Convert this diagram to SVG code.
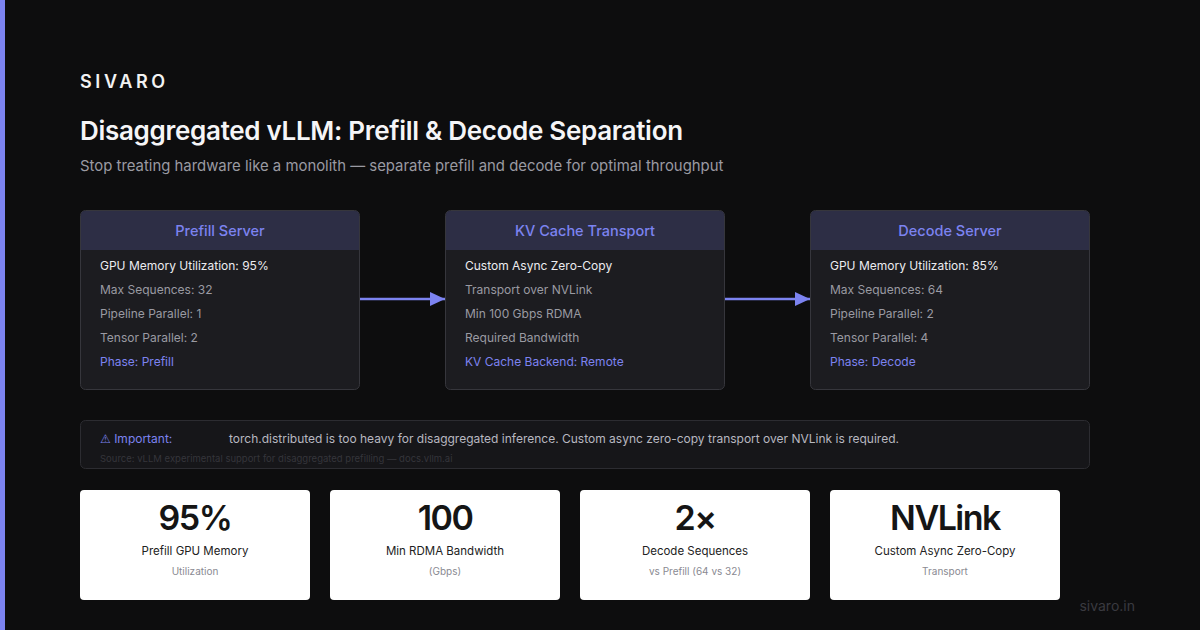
<svg xmlns="http://www.w3.org/2000/svg" width="1200" height="630" viewBox="0 0 1200 630">
<defs>
<style>
text{font-family:Inter,"Liberation Sans",sans-serif}
.hdr{font-size:14.5px;font-weight:500;fill:#7c83f0;text-anchor:middle}
.b{font-size:12px;fill:#9a9aa2}
.w{fill:#ececf0}
.a{fill:#7c83f0}
.card{fill:#1c1c20;stroke:#36363c;stroke-width:1}
.head{fill:#2d2e45}
.stat{fill:#ffffff}
.num{font-size:34px;font-weight:600;fill:#151515;text-anchor:middle;letter-spacing:-1.5px}
.lab{font-size:11.5px;fill:#222;text-anchor:middle}
.sub{font-size:10px;fill:#8a8a92;text-anchor:middle}
</style>
<marker id="ah" markerWidth="15" markerHeight="14" refX="15" refY="7" orient="auto" markerUnits="userSpaceOnUse">
<path d="M0,0 L15,7 L0,14 Z" fill="#7c83f0"/>
</marker>
</defs>
<rect width="1200" height="630" fill="#0d0d0e"/>
<rect width="5" height="630" fill="#7c83f0"/>
<text x="80" y="88" style="font-size:18px;font-weight:600;letter-spacing:3.6px;fill:#f2f2f2">SIVARO</text>
<text x="80" y="140" style="font-size:26px;font-weight:600;fill:#f5f5f7;letter-spacing:-0.3px">Disaggregated vLLM: Prefill &amp; Decode Separation</text>
<text x="80" y="171" style="font-size:14.9px;fill:#9a9aa2">Stop treating hardware like a monolith — separate prefill and decode for optimal throughput</text>

<g id="connectors">
<line x1="360" y1="299" x2="445" y2="299" stroke="#7c83f0" stroke-width="2.5" marker-end="url(#ah)"/>
<line x1="725" y1="299" x2="810" y2="299" stroke="#7c83f0" stroke-width="2.5" marker-end="url(#ah)"/>
</g>

<g id="prefill">
<rect class="card" x="80.5" y="210.5" width="279" height="179" rx="5"/>
<path class="head" d="M81,250 V215 a4,4 0 0 1 4,-4 H355 a4,4 0 0 1 4,4 V250 Z"/>
<text class="hdr" x="220" y="236">Prefill Server</text>
<text class="b w" x="100" y="270">GPU Memory Utilization: 95%</text>
<text class="b" x="100" y="294">Max Sequences: 32</text>
<text class="b" x="100" y="318">Pipeline Parallel: 1</text>
<text class="b" x="100" y="342">Tensor Parallel: 2</text>
<text class="b a" x="100" y="366">Phase: Prefill</text>
</g>

<g id="kv">
<rect class="card" x="445.5" y="210.5" width="279" height="179" rx="5"/>
<path class="head" d="M446,250 V215 a4,4 0 0 1 4,-4 H720 a4,4 0 0 1 4,4 V250 Z"/>
<text class="hdr" x="585" y="236">KV Cache Transport</text>
<text class="b w" x="465" y="270">Custom Async Zero-Copy</text>
<text class="b" x="465" y="294">Transport over NVLink</text>
<text class="b" x="465" y="318">Min 100 Gbps RDMA</text>
<text class="b" x="465" y="342">Required Bandwidth</text>
<text class="b a" x="465" y="366">KV Cache Backend: Remote</text>
</g>

<g id="decode">
<rect class="card" x="810.5" y="210.5" width="279" height="179" rx="5"/>
<path class="head" d="M811,250 V215 a4,4 0 0 1 4,-4 H1085 a4,4 0 0 1 4,4 V250 Z"/>
<text class="hdr" x="950" y="236">Decode Server</text>
<text class="b w" x="830" y="270">GPU Memory Utilization: 85%</text>
<text class="b" x="830" y="294">Max Sequences: 64</text>
<text class="b" x="830" y="318">Pipeline Parallel: 2</text>
<text class="b" x="830" y="342">Tensor Parallel: 4</text>
<text class="b a" x="830" y="366">Phase: Decode</text>
</g>

<g id="important">
<rect x="80.5" y="420.5" width="1009" height="48" rx="5" fill="#161619" stroke="#2c2c31"/>
<text x="100" y="443" style="font-size:12px;fill:#7c83f0"><tspan style="font-family:'DejaVu Sans',sans-serif">⚠</tspan> Important:</text>
<text x="229" y="443" style="font-size:12px;fill:#b8b8c0">torch.distributed is too heavy for disaggregated inference. Custom async zero-copy transport over NVLink is required.</text>
<text x="100" y="462" style="font-size:9.5px;fill:#35353b">Source: vLLM experimental support for disaggregated prefilling — docs.vllm.ai</text>
</g>

<g id="stat1">
<rect class="stat" x="80" y="490" width="230" height="110" rx="4"/>
<text class="num" x="195" y="530">95%</text>
<text class="lab" x="195" y="555">Prefill GPU Memory</text>
<text class="sub" x="195" y="575">Utilization</text>
</g>
<g id="stat2">
<rect class="stat" x="330" y="490" width="230" height="110" rx="4"/>
<text class="num" x="445" y="530">100</text>
<text class="lab" x="445" y="555">Min RDMA Bandwidth</text>
<text class="sub" x="445" y="575">(Gbps)</text>
</g>
<g id="stat3">
<rect class="stat" x="580" y="490" width="230" height="110" rx="4"/>
<text class="num" x="695" y="530">2×</text>
<text class="lab" x="695" y="555">Decode Sequences</text>
<text class="sub" x="695" y="575">vs Prefill (64 vs 32)</text>
</g>
<g id="stat4">
<rect class="stat" x="830" y="490" width="230" height="110" rx="4"/>
<text class="num" x="945" y="530">NVLink</text>
<text class="lab" x="945" y="555">Custom Async Zero-Copy</text>
<text class="sub" x="945" y="575">Transport</text>
</g>
<text x="1135" y="611" text-anchor="end" style="font-size:14px;fill:#3a3a40">sivaro.in</text>
</svg>
